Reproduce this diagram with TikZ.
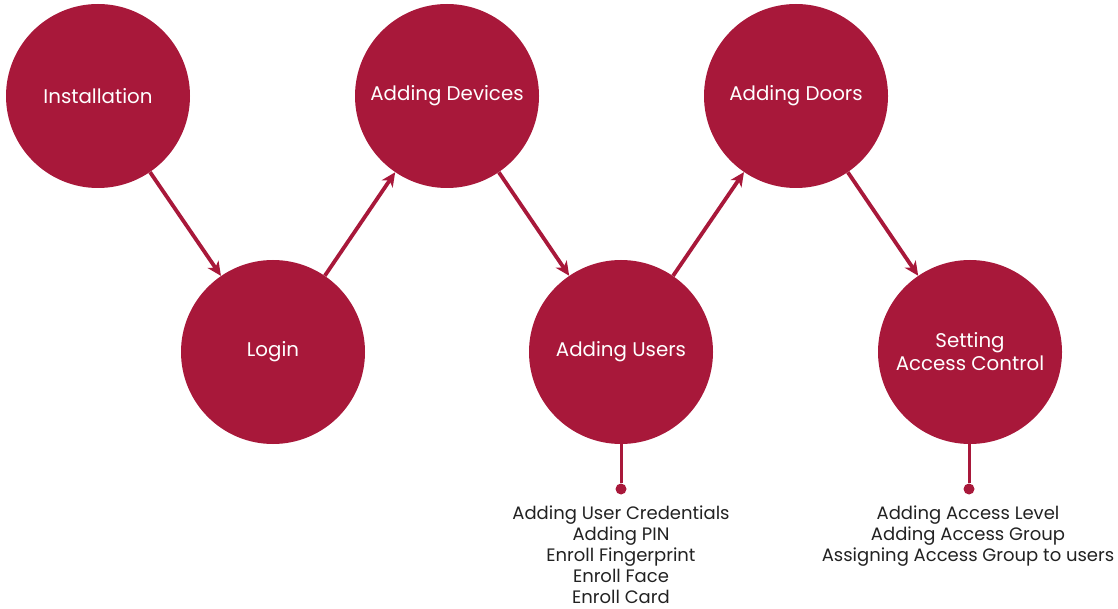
\documentclass[tikz,border=0pt]{standalone}
\usepackage{fontspec}
\setmainfont{Poppins}
\usepackage{xcolor}
\usetikzlibrary{arrows.meta, positioning}
\definecolor{crimson}{HTML}{A8183A}
\definecolor{listgray}{HTML}{222222}

\begin{document}
\begin{tikzpicture}[x=1pt,y=-1pt,
                    step node/.style={circle,fill=crimson,inner sep=0pt,minimum size=184pt,
                                      text=white,align=center,font=\fontsize{19.8}{23}\selectfont},
                    flow/.style={draw=crimson,line width=3.8pt,-{Stealth[length=14pt,width=13pt,inset=4pt]}},
                    stem/.style={draw=crimson,line width=3pt},
                    stem dot/.style={circle,fill=crimson,inner sep=0pt,minimum size=11pt},
                    sub list/.style={align=center,text=listgray,font=\fontsize{18}{21}\selectfont,inner sep=0pt}]
\useasboundingbox (0,0) rectangle (1118,609);

% steps, zig-zag
\node[step node] (Install) at (98,96) {Installation};
\node[step node] (Login) at (273,352) {Login};
\node[step node] (Devices) at (447,96) {Adding Devices};
\node[step node] (Users) at (621,352) {Adding Users};
\node[step node] (Doors) at (796,96) {Adding Doors};
\node[step node] (Access) at (970,352) {Setting\\Access Control};

\foreach \a/\b in {Install/Login,Login/Devices,Devices/Users,Users/Doors,Doors/Access}
   \draw[flow] (\a) -- (\b);

% sub tasks
\node[stem dot] (UsersDot) at (621,489) {};
\node[stem dot] (AccessDot) at (969,489) {};
\draw[stem] (Users.south) -- (UsersDot);
\draw[stem] (Access.south -| AccessDot) -- (AccessDot);

\node[sub list,anchor=north] (UsersList) at (621,506) {Adding User Credentials\\Adding PIN\\Enroll Fingerprint\\Enroll Face\\Enroll Card};
\node[sub list,anchor=north] (AccessList) at (968,506) {Adding Access Level\\Adding Access Group\\Assigning Access Group to users};

\end{tikzpicture}
\end{document}
